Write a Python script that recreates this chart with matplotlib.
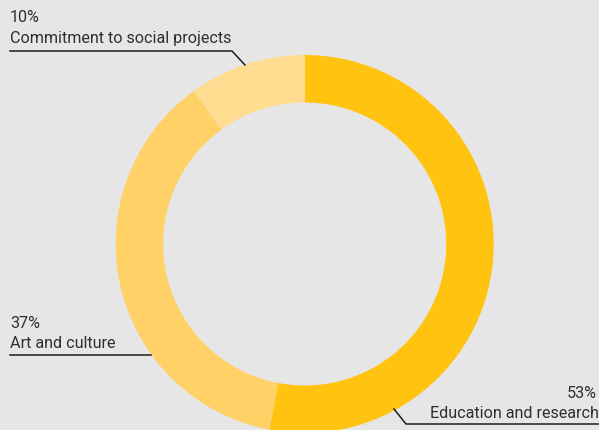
import matplotlib
matplotlib.use("Agg")
import matplotlib.pyplot as plt

# data
labels = ["Education and research", "Art and culture", "Commitment to social projects"]
shares = [53, 37, 10]
colors = ["#FFC310", "#FFD166", "#FFDD90"]

bg = "#E6E6E6"
H = 430

fig = plt.figure(figsize=(5.99, 4.30), dpi=100)
fig.patch.set_facecolor(bg)
ax = fig.add_axes([0, 0, 1, 1])
ax.set_facecolor(bg)

# donut, clockwise from the top
ax.pie(shares, colors=colors, startangle=90, counterclock=False,
       radius=189, center=(304.7, H - 244),
       wedgeprops=dict(width=47.5, linewidth=0))

ax.set_xlim(0, 599)
ax.set_ylim(0, H)
ax.set_aspect("auto")
ax.axis("off")

txt = dict(color="#2e2e2e", fontsize=11.6, family="Roboto")
line = dict(color="#1e1e1e", linewidth=1.1)

# Commitment to social projects (top left)
ax.text(10, H - 18, f"{shares[2]}%", ha="left", va="center", **txt)
ax.text(10, H - 38, labels[2], ha="left", va="center", **txt)
ax.plot([10, 232, 245], [H - 51, H - 51, H - 65], **line)

# Art and culture (left)
ax.text(10, H - 323, f"{shares[1]}%", ha="left", va="center", **txt)
ax.text(10, H - 343, labels[1], ha="left", va="center", **txt)
ax.plot([10, 151], [H - 355, H - 355], **line)

# Education and research (bottom right)
ax.text(597, H - 393, f"{shares[0]}%", ha="right", va="center", **txt)
ax.text(599, H - 413, labels[0], ha="right", va="center", **txt)
ax.plot([394, 406, 599], [H - 409, H - 424, H - 424], **line)

fig.savefig("out.png", dpi=100, facecolor=bg)
